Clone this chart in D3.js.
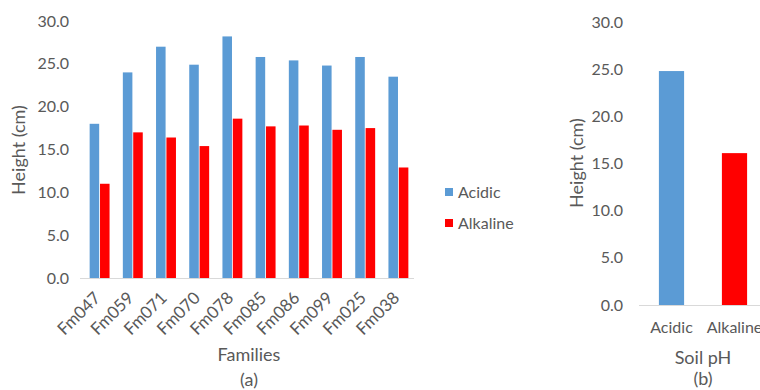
<!DOCTYPE html>
<html><head><meta charset="utf-8">
<script src="https://cdn.jsdelivr.net/npm/d3@7"></script>
<style>
body{margin:0;background:#fff;}
text{font-family:Lato,"Open Sans",sans-serif;fill:#595959;}
</style></head>
<body><svg id="c" width="760" height="390"></svg>
<script>
const families = ["Fm047","Fm059","Fm071","Fm070","Fm078","Fm085","Fm086","Fm099","Fm025","Fm038"];
const acidic   = [18.0, 24.0, 27.0, 24.9, 28.2, 25.8, 25.4, 24.8, 25.8, 23.5];
const alkaline = [11.0, 17.0, 16.4, 15.4, 18.6, 17.7, 17.8, 17.3, 17.5, 12.9];
const seriesNames = ["Acidic","Alkaline"];
const soilPH = ["Acidic","Alkaline"];
const soilMeans = [24.8, 16.1];
const yTicks = [0,5,10,15,20,25,30];
const colors = {Acidic:"#5B9BD5", Alkaline:"#FF0000"};

const svg = d3.select("#c");
const fmt = d3.format(".1f");
const TICK_FS = 16, XTICK_FS = 17, TITLE_FS = 18;

// ---------- Chart (a) ----------
{
  const x0 = d3.scaleBand().domain(families).range([83,415]).paddingInner(0.4).paddingOuter(0.2);
  const x1 = d3.scaleBand().domain(seriesNames).range([0,x0.bandwidth()]).paddingInner(0.08);
  const y = d3.scaleLinear().domain([0,30]).range([278,21]);
  const g = svg.append("g");
  const rows = families.map((f,i)=>({f, vals:[{k:"Acidic",v:acidic[i]},{k:"Alkaline",v:alkaline[i]}]}));
  g.selectAll("g.grp").data(rows).join("g").attr("transform",d=>`translate(${x0(d.f)},0)`)
    .selectAll("rect").data(d=>d.vals).join("rect")
    .attr("x",d=>x1(d.k)).attr("width",x1.bandwidth())
    .attr("y",d=>y(d.v)).attr("height",d=>y(0)-y(d.v)).attr("fill",d=>colors[d.k]);
  const ya = g.append("g").attr("transform","translate(69,0)")
    .call(d3.axisLeft(y).tickValues(yTicks).tickFormat(fmt).tickSize(0).tickPadding(0));
  ya.select(".domain").remove();
  ya.selectAll("text").style("font-size",TICK_FS+"px").attr("fill","#595959");
  const xa = g.append("g").attr("transform","translate(0,278)")
    .call(d3.axisBottom(x0).tickSize(0).tickPadding(0).tickSizeOuter(0));
  xa.select(".domain").attr("stroke","#d9d9d9").attr("stroke-width",1.2).attr("d","M80,0.5H414");
  xa.selectAll(".tick text").style("font-size",XTICK_FS+"px").attr("fill","#595959")
    .attr("text-anchor","end").attr("dy",null).attr("y",0)
    .attr("transform","translate(2,21) rotate(-45)");
  g.append("text").attr("transform","translate(25,150) rotate(-90)").attr("text-anchor","middle")
    .style("font-size",TITLE_FS+"px").text("Height (cm)");
  g.append("text").attr("x",249).attr("y",361).attr("text-anchor","middle").style("font-size",TITLE_FS+"px").text("Families");
  g.append("text").attr("x",249).attr("y",386).attr("text-anchor","middle").style("font-size",TITLE_FS+"px").text("(a)");
  const lg = g.selectAll("g.leg").data(seriesNames).join("g")
    .attr("transform",(d,i)=>`translate(445,${192+i*31})`);
  lg.append("rect").attr("x",0).attr("y",-4).attr("width",8).attr("height",8).attr("fill",d=>colors[d]);
  lg.append("text").attr("x",13).attr("y",0).attr("dy","0.35em").style("font-size",TICK_FS+"px").text(d=>d);
}

// ---------- Chart (b) ----------
{
  const x = d3.scaleBand().domain(soilPH).range([640,766]).paddingInner(0.6).paddingOuter(0.3);
  const y = d3.scaleLinear().domain([0,30]).range([305,22]);
  const g = svg.append("g");
  g.selectAll("rect").data(soilPH.map((k,i)=>({k,v:soilMeans[i]}))).join("rect")
    .attr("x",d=>x(d.k)).attr("width",x.bandwidth())
    .attr("y",d=>y(d.v)).attr("height",d=>y(0)-y(d.v)).attr("fill",d=>colors[d.k]);
  const ya = g.append("g").attr("transform","translate(623,0)")
    .call(d3.axisLeft(y).tickValues(yTicks).tickFormat(fmt).tickSize(0).tickPadding(0));
  ya.select(".domain").remove();
  ya.selectAll("text").style("font-size",TICK_FS+"px").attr("fill","#595959");
  const xa = g.append("g").attr("transform","translate(0,305)")
    .call(d3.axisBottom(x).tickSize(0).tickPadding(17).tickSizeOuter(0));
  xa.select(".domain").attr("stroke","#d9d9d9").attr("stroke-width",1.2).attr("d","M639,0.5H766");
  xa.selectAll(".tick text").style("font-size",TICK_FS+"px").attr("fill","#595959");
  g.append("text").attr("transform","translate(583,163) rotate(-90)").attr("text-anchor","middle")
    .style("font-size",TITLE_FS+"px").text("Height (cm)");
  g.append("text").attr("x",703).attr("y",364).attr("text-anchor","middle").style("font-size",TITLE_FS+"px").text("Soil pH");
  g.append("text").attr("x",703).attr("y",385).attr("text-anchor","middle").style("font-size",TITLE_FS+"px").text("(b)");
}
</script></body></html>
